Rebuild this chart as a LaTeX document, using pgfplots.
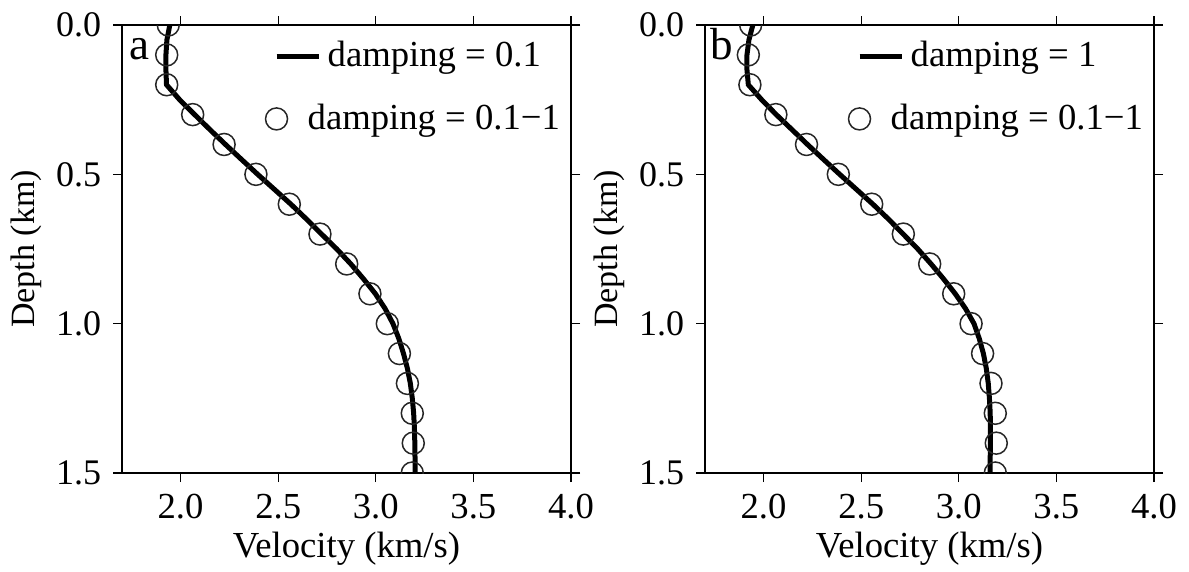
\documentclass[border=0pt]{standalone}
\usepackage{fontspec}
\setmainfont{Liberation Serif}
\usepackage{pgfplots}
\pgfplotsset{compat=1.18}
\pgfplotsset{
  vel/.style={
    scale only axis,
    width=134.7pt, height=134.4pt,
    xmin=1.7, xmax=4.0, ymin=0, ymax=1.5,
    y dir=reverse,
    xtick={2.0,2.5,3.0,3.5,4.0},
    ytick={0,0.5,1.0,1.5},
    tick align=outside,
    major tick length=2.7pt,
    tick style={line width=0.4pt, black},
    axis line style={line width=0.4pt},
    /pgf/number format/assume math mode=true,
    /pgf/number format/.cd, fixed, fixed zerofill, precision=1, /pgfplots/.cd,
    xticklabel style={font=\fontsize{11}{13}\selectfont},
    yticklabel style={font=\fontsize{10.8}{13}\selectfont},
    xlabel style={font=\fontsize{11}{13}\selectfont},
    ylabel style={font=\fontsize{10.2}{12}\selectfont},
    xlabel={Velocity (km/s)},
    ylabel={Depth (km)},
    xlabel style={at={(axis description cs:0.5,-0.1897)}, anchor=base},
    ylabel style={at={(axis description cs:-0.1938,0.5)}, anchor=base},
    clip marker paths=true,
    legend style={draw=none, fill=none, font=\fontsize{11}{13}\selectfont,
      at={(axis description cs:0.318,0.9786)}, anchor=north west,
      row sep=5.6pt, inner sep=0pt, outer sep=0pt},
    legend cell align=left,
  },
  curve/.style={black, line width=1.5pt, no marks},
  circ/.style={only marks, mark=o, mark size=3.3pt, mark options={line width=0.45pt, draw=black!85}},
}
\begin{document}
\begin{tikzpicture}
\useasboundingbox (0,0) rectangle (356.7pt,171.6pt);
% ---------- panel a
\begin{axis}[vel, at={(36.6pt,29.7pt)}, anchor=south west]
\addplot[curve, legend image code/.code={\draw[black,line width=1.5pt] (0pt,0pt)--(12.6pt,0pt);}] coordinates {
(1.945,0.00) (1.930,0.05) (1.925,0.10) (1.925,0.15) (1.928,0.20)
(1.995,0.25) (2.072,0.30) (2.150,0.35) (2.230,0.40) (2.312,0.45) (2.395,0.50)
(2.480,0.55) (2.565,0.60) (2.645,0.65) (2.722,0.70) (2.800,0.75) (2.872,0.80)
(2.937,0.85) (2.998,0.90) (3.048,0.95) (3.088,1.00) (3.118,1.05) (3.142,1.10)
(3.162,1.15) (3.177,1.20) (3.187,1.25) (3.194,1.30) (3.198,1.35) (3.200,1.40)
(3.201,1.45) (3.201,1.50)};
\addlegendentry{damping = 0.1}
\addplot[circ, legend image code/.code={\draw[black!85,line width=0.45pt] (0pt,0pt) circle (3.3pt);}] coordinates {
(1.937,0.0) (1.929,0.1) (1.929,0.2) (2.062,0.3) (2.223,0.4) (2.386,0.5)
(2.557,0.6) (2.714,0.7) (2.851,0.8) (2.970,0.9) (3.059,1.0) (3.121,1.1)
(3.162,1.2) (3.187,1.3) (3.192,1.4) (3.187,1.5)};
\addlegendentry{\hspace{-6pt}damping = 0.1−1}
\node[anchor=base west, inner sep=0pt, font=\fontsize{13.5}{15}\selectfont] at (axis description cs:0.016,0.924) {a};
\end{axis}
% ---------- panel b
\begin{axis}[vel, at={(211.5pt,29.7pt)}, anchor=south west]
\addplot[curve, legend image code/.code={\draw[black,line width=1.5pt] (0pt,0pt)--(12.6pt,0pt);}] coordinates {
(1.945,0.00) (1.925,0.05) (1.915,0.10) (1.915,0.15) (1.922,0.20)
(1.990,0.25) (2.065,0.30) (2.145,0.35) (2.225,0.40) (2.307,0.45) (2.390,0.50)
(2.475,0.55) (2.560,0.60) (2.640,0.65) (2.715,0.70) (2.790,0.75) (2.858,0.80)
(2.922,0.85) (2.982,0.90) (3.035,0.95) (3.078,1.00) (3.105,1.05) (3.126,1.10)
(3.141,1.15) (3.151,1.20) (3.157,1.25) (3.161,1.30) (3.162,1.35) (3.162,1.40)
(3.161,1.45) (3.160,1.50)};
\addlegendentry{damping = 1}
\addplot[circ, legend image code/.code={\draw[black!85,line width=0.45pt] (0pt,0pt) circle (3.3pt);}] coordinates {
(1.934,0.0) (1.922,0.1) (1.930,0.2) (2.063,0.3) (2.220,0.4) (2.383,0.5)
(2.554,0.6) (2.716,0.7) (2.851,0.8) (2.974,0.9) (3.063,1.0) (3.122,1.1)
(3.165,1.2) (3.187,1.3) (3.192,1.4) (3.187,1.5)};
\addlegendentry{\hspace{-6pt}damping = 0.1−1}
\node[anchor=base west, inner sep=0pt, font=\fontsize{13.5}{15}\selectfont] at (axis description cs:0.011,0.924) {b};
\end{axis}
\end{tikzpicture}
\end{document}
